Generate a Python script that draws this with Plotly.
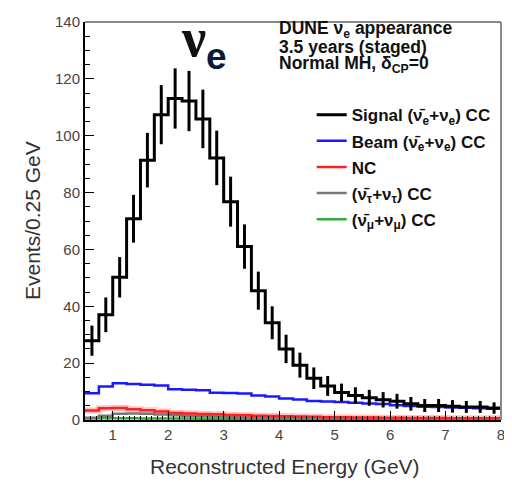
import plotly.graph_objects as go

bin_edges = [0.5, 0.75, 1.0, 1.25, 1.5, 1.75, 2.0, 2.25, 2.5, 2.75, 3.0, 3.25, 3.5, 3.75,
             4.0, 4.25, 4.5, 4.75, 5.0, 5.25, 5.5, 5.75, 6.0, 6.25, 6.5, 6.75, 7.0, 7.25,
             7.5, 7.75, 8.0]
bin_centers = [0.625, 0.875, 1.125, 1.375, 1.625, 1.875, 2.125, 2.375, 2.625, 2.875,
               3.125, 3.375, 3.625, 3.875, 4.125, 4.375, 4.625, 4.875, 5.125, 5.375,
               5.625, 5.875, 6.125, 6.375, 6.625, 6.875, 7.125, 7.375, 7.625, 7.875]

signal = [27.9, 37.0, 50.2, 70.8, 91.4, 107.4, 113.1, 112.2, 105.9, 92.2,
          76.8, 61.0, 45.5, 34.2, 25.0, 19.3, 14.7, 12.0, 9.7, 8.6,
          7.8, 7.1, 6.6, 5.7, 5.1, 5.1, 4.8, 4.6, 4.6, 4.2]
signal_err = [5.3, 6.1, 7.1, 8.4, 9.6, 10.4, 10.6, 10.6, 10.3, 9.6,
              8.8, 7.8, 6.7, 5.8, 5.0, 4.4, 3.8, 3.5, 3.1, 2.9,
              2.8, 2.7, 2.6, 2.4, 2.3, 2.3, 2.2, 2.1, 2.1, 2.0]
beam = [9.4, 11.8, 12.9, 12.7, 12.4, 12.1, 10.8, 10.6, 10.5, 9.6,
        9.5, 9.3, 8.6, 8.3, 7.6, 7.2, 6.7, 6.5, 6.3, 6.1,
        5.8, 5.6, 5.2, 4.9, 4.7, 4.6, 4.4, 4.3, 4.1, 4.0]
nc = [3.3, 4.1, 4.2, 3.8, 3.4, 3.0, 2.5, 2.3, 2.1, 2.0,
      1.8, 1.7, 1.5, 1.4, 1.3, 1.2, 1.1, 1.0, 1.0, 0.9,
      0.9, 0.8, 0.8, 0.7, 0.7, 0.7, 0.6, 0.6, 0.6, 0.6]
nutau = [0.8, 1.5, 2.2, 2.3, 2.2, 1.9, 1.7, 1.5, 1.3, 1.2,
         1.0, 0.9, 0.8, 0.8, 0.7, 0.6, 0.6, 0.5, 0.5, 0.5,
         0.4, 0.4, 0.4, 0.4, 0.3, 0.3, 0.3, 0.3, 0.3, 0.3]
numu = [0.5, 0.6, 0.6, 0.6, 0.5, 0.5, 0.5, 0.5, 0.4, 0.4,
        0.4, 0.4, 0.4, 0.3, 0.3, 0.3, 0.3, 0.3, 0.3, 0.3,
        0.3, 0.3, 0.3, 0.3, 0.3, 0.3, 0.3, 0.3, 0.3, 0.3]

x_ticks = [1, 2, 3, 4, 5, 6, 7, 8]
y_ticks = [0, 20, 40, 60, 80, 100, 120, 140]

legend_names = [
    "Signal (ν̄<sub>e</sub>+ν<sub>e</sub>) CC",
    "Beam (ν̄<sub>e</sub>+ν<sub>e</sub>) CC",
    "NC",
    "(ν̄<sub>τ</sub>+ν<sub>τ</sub>) CC",
    "(ν̄<sub>μ</sub>+ν<sub>μ</sub>) CC",
]
info_lines = [
    "DUNE ν<sub>e</sub> appearance",
    "3.5 years (staged)",
    "Normal MH, δ<sub>CP</sub>=0",
]


def step(vals):
    return list(vals) + [vals[-1]]


fig = go.Figure()

# background components
fig.add_trace(go.Scatter(x=bin_edges, y=step(nc), mode="lines", line_shape="hv",
                         line=dict(color="rgba(255,80,80,0.35)", width=6),
                         showlegend=False, hoverinfo="skip"))
fig.add_trace(go.Scatter(x=bin_edges, y=step(numu), mode="lines", line_shape="hv",
                         line=dict(color="#33aa33", width=2.5), name=legend_names[4],
                         legendgroup="g5", legendrank=5))
fig.add_trace(go.Scatter(x=bin_edges, y=step(nutau), mode="lines", line_shape="hv",
                         line=dict(color="#777777", width=2.5), name=legend_names[3],
                         legendgroup="g4", legendrank=4))
fig.add_trace(go.Scatter(x=bin_edges, y=step(nc), mode="lines", line_shape="hv",
                         line=dict(color="#ff2020", width=2.5), name=legend_names[2],
                         legendgroup="g3", legendrank=3))
fig.add_trace(go.Scatter(x=bin_edges, y=step(beam), mode="lines", line_shape="hv",
                         line=dict(color="#1a1aff", width=2.5), name=legend_names[1],
                         legendgroup="g2", legendrank=2))
# signal
fig.add_trace(go.Scatter(x=bin_centers, y=signal, mode="markers",
                         marker=dict(size=1, color="black", opacity=0),
                         error_y=dict(type="data", array=signal_err, width=0,
                                      thickness=3, color="black"),
                         showlegend=False, hoverinfo="skip"))
fig.add_trace(go.Scatter(x=bin_edges, y=step(signal), mode="lines", line_shape="hv",
                         line=dict(color="black", width=3), name=legend_names[0],
                         legendgroup="g1", legendrank=1))

font_main = "Liberation Sans, Arial, sans-serif"

fig.update_layout(
    width=504, height=474,
    margin=dict(l=77, r=11, t=5, b=62),
    paper_bgcolor="white", plot_bgcolor="white",
    font=dict(family=font_main, color="#222"),
    showlegend=True,
    legend=dict(x=0.545, y=0.811, xanchor="left", yanchor="top",
                bgcolor="rgba(0,0,0,0)", borderwidth=0,
                font=dict(family=font_main, size=17, color="#111", weight="bold"),
                tracegroupgap=1, itemwidth=30),
    xaxis=dict(range=[0.5, 8], tickvals=x_ticks, ticks="inside", ticklen=9,
               tickwidth=1.2, tickcolor="black", showline=True, linecolor="black",
               linewidth=2, showgrid=False, zeroline=False,
               tickfont=dict(size=15, color="#444"), ticklabeloverflow="allow",
               minor=dict(dtick=0.1, tick0=0, ticks="inside", ticklen=4,
                          tickcolor="black", tickwidth=1, showgrid=False)),
    yaxis=dict(range=[0, 140], tickvals=y_ticks, ticks="inside", ticklen=9,
               tickwidth=1.2, tickcolor="black", showline=True, linecolor="black",
               linewidth=2, showgrid=False, zeroline=False,
               tickfont=dict(size=15, color="#444"), ticklabeloverflow="allow",
               minor=dict(dtick=5, tick0=0, ticks="inside", ticklen=5,
                          tickcolor="black", tickwidth=1, showgrid=False)),
)

# frame top/right
fig.add_shape(type="line", xref="paper", yref="paper", x0=0, x1=1, y0=1, y1=1,
              line=dict(color="#888", width=2))
fig.add_shape(type="line", xref="paper", yref="paper", x0=1, x1=1, y0=0, y1=1,
              line=dict(color="#888", width=2))

# axis titles
fig.add_annotation(text="Reconstructed Energy (GeV)", xref="paper", yref="paper",
                   x=0.48, y=0, yanchor="middle", yshift=-46, showarrow=False,
                   font=dict(size=21, color="#333", family=font_main))
fig.add_annotation(text="Events/0.25 GeV", xref="paper", yref="paper",
                   x=0, y=0.5, xanchor="center", xshift=-53, textangle=-90,
                   showarrow=False, font=dict(size=21, color="#333", family=font_main))

# info text
for i, line in enumerate(info_lines):
    fig.add_annotation(text=line, xref="paper", yref="paper", x=0.4615,
                       y=(420 - (21 + 17.5 * i)) / 407, xanchor="left",
                       yanchor="middle", align="left", showarrow=False,
                       font=dict(size=17.5, color="#111", family=font_main, weight="bold"))

# big nu_e label
fig.add_annotation(text="ν", xref="paper", yref="paper", x=0.26, y=0.96,
                   xanchor="center", yanchor="middle", showarrow=False,
                   font=dict(size=54, color="#111", family="Liberation Serif, serif",
                             weight="bold"))
fig.add_annotation(text="e", xref="paper", yref="paper", x=0.316, y=0.914,
                   xanchor="center", yanchor="middle", showarrow=False,
                   font=dict(size=37, color="#0a1a3a", family=font_main, weight="bold"))

fig.write_html("out.html")
